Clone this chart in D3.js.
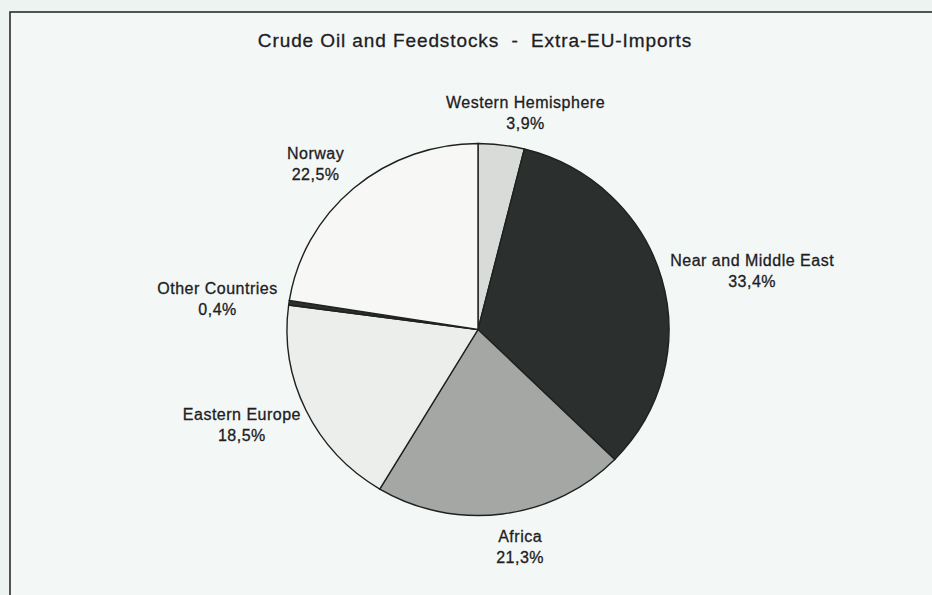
<!DOCTYPE html>
<html>
<head>
<meta charset="utf-8">
<script src="https://cdn.jsdelivr.net/npm/d3@7"></script>
<style>
  body { margin: 0; background: #eef3f0; }
  /* a hair of stroke gives the slightly bled look of the printed scan */
  text { font-family: "Liberation Sans", Arial, sans-serif; fill: #1d201f; stroke: #1d201f; stroke-width: 0.3px; }
</style>
</head>
<body>
<div id="chart"></div>
<script>
// Extra-EU imports of crude oil and feedstocks, share in %, clockwise from 12 o'clock
const regions = ["Western Hemisphere", "Near and Middle East", "Africa", "Eastern Europe", "Other Countries", "Norway"];
const shares  = [3.9, 33.4, 21.3, 18.5, 0.4, 22.5];
const title   = "Crude Oil and Feedstocks  -  Extra-EU-Imports";

// slice fills as they come out of the scan
const fills = ["#d8dbd8", "#2b302e", "#a4a7a4", "#eceeec", "#2b302e", "#f7f8f6"];
// Excel pushed a few labels sideways from the plain radial spot
const labelNudge = [13, 0, 13, 0, 0, -12];

const width = 932, height = 595;
// pie centre and radius, the scan squashes it a little vertically
const cx = 478, cy = 329.5, r = 191, squash = 0.974;

const svg = d3.select("#chart").append("svg")
    .attr("width", width)
    .attr("height", height);

svg.append("rect")
    .attr("width", width)
    .attr("height", height)
    .attr("fill", "#edf3f0");

// chart frame, right and bottom edges run off the page
svg.append("rect")
    .attr("x", 10)
    .attr("y", 12)
    .attr("width", width + 20)
    .attr("height", height + 20)
    .attr("fill", "#f3f7f5")
    .attr("stroke", "#2a2c2b")
    .attr("stroke-width", 1.6);

svg.append("text")
    .attr("x", 475)
    .attr("y", 47)
    .attr("text-anchor", "middle")
    .style("font-size", "19px")
    .style("letter-spacing", "0.9px")
    .style("white-space", "pre")
    .text(title);

const pie = d3.pie().sort(null).value(d => d)(shares);
const arc = d3.arc().innerRadius(0).outerRadius(r);

svg.append("g")
    .attr("transform", `translate(${cx},${cy}) scale(1,${squash})`)
  .selectAll("path")
  .data(pie)
  .join("path")
    .attr("d", arc)
    .attr("fill", (_, i) => fills[i])
    .attr("stroke", "#1e2120")
    .attr("stroke-width", 1.4)
    .attr("vector-effect", "non-scaling-stroke");

// 33.4 -> "33,4%"
const fmt = v => d3.format(".1f")(v).replace(".", ",") + "%";

const labels = svg.append("g")
  .selectAll("text")
  .data(pie)
  .join("text")
    .attr("text-anchor", "middle")
    .style("font-size", "16px")
    .style("letter-spacing", "0.5px");

labels.append("tspan")
    .attr("x", 0)
    .text((_, i) => regions[i]);

labels.append("tspan")
    .attr("x", 0)
    .attr("dy", 21)
    .text(d => fmt(d.data));

// Put each two-line label just outside its slice, the block leaning away from the pie
labels.each(function(d, i) {
  const a = (d.startAngle + d.endAngle) / 2;
  const w = this.getBBox().width;
  const h = 42;
  const px = cx + (r + 12) * Math.sin(a);
  const py = cy - (r + 12) * Math.cos(a) * squash;
  const bx = px + (w / 2) * Math.sin(a) + labelNudge[i];
  const by = py - (h / 2) * Math.cos(a);
  // first baseline sits about 5px above the middle of the block
  d3.select(this).attr("transform", `translate(${bx},${by - 4})`);
});
</script>
</body>
</html>
